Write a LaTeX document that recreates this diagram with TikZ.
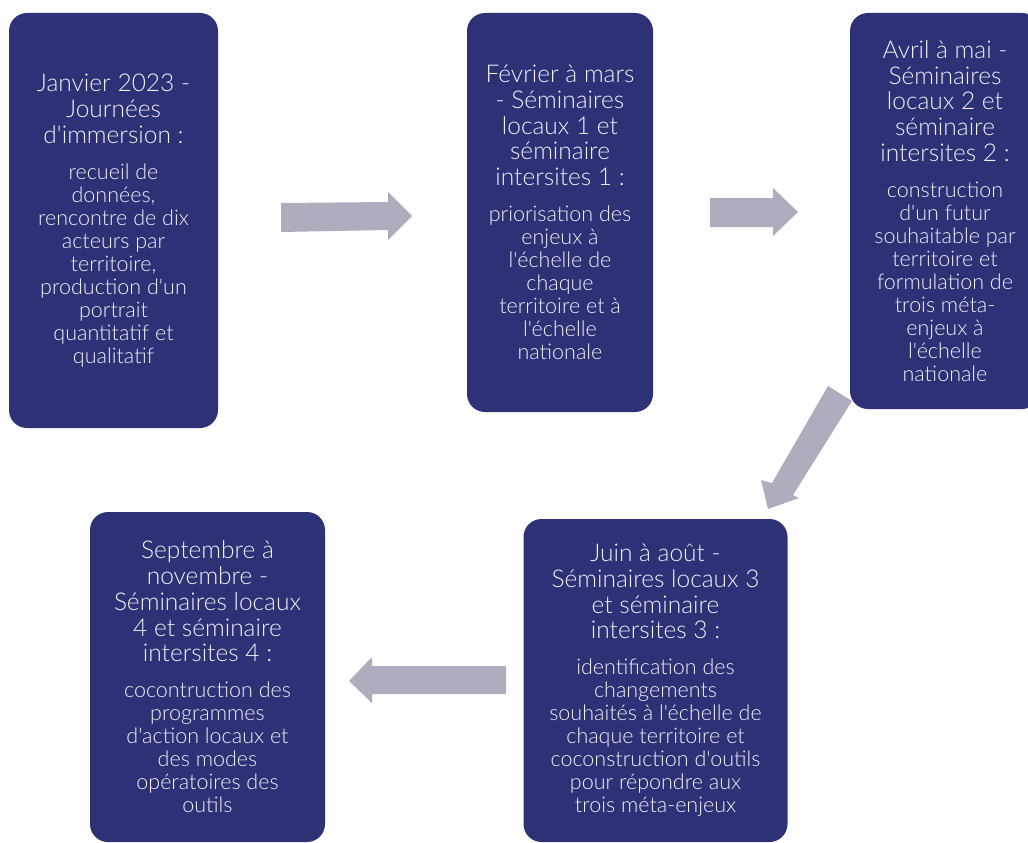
\documentclass[tikz,border=0pt]{standalone}
\usepackage{fontspec}
\setmainfont{Lato Light}[Ligatures=TeXOff]
\definecolor{boxblue}{HTML}{2E3176}
\definecolor{arrowgrey}{HTML}{ADADBE}
\definecolor{txt}{HTML}{F0F0F6}
\newcommand{\ttl}{\fontsize{24.5}{25.8}\selectfont}
\newcommand{\bdy}{\fontsize{21.5}{23}\selectfont}
\newcommand{\stagetext}[3]{\parbox{#1}{\centering\ttl #2\par\vspace{13pt}\bdy #3\par}}
\begin{document}
\begin{tikzpicture}[x=1pt,y=-1pt,
  stagebox/.style={fill=boxblue,rounded corners=18pt,inner sep=0pt,text=txt},
  blockarrow/.style={fill=arrowgrey,draw=none}]
\useasboundingbox (0,0) rectangle (1028,843);
\begin{scope}
\clip (0,0) rectangle (1028,843);
\node[stagebox,minimum width=209pt,minimum height=415pt] (b1) at (113.5,220.5)
 {\stagetext{200pt}{Janvier 2023 -\\ Journées\\ d'immersion :}
  {recueil de\\ données,\\ rencontre de dix\\ acteurs par\\ territoire,\\ production d'un\\ portrait\\ quantitatif et\\ qualitatif}};
\node[stagebox,minimum width=186pt,minimum height=399pt] (b2) at (560,212.5)
 {\stagetext{180pt}{Février à mars\\ - Séminaires\\ locaux 1 et\\ séminaire\\ intersites 1 :}
  {priorisation des\\ enjeux à\\ l'échelle de\\ chaque\\ territoire et à\\ l'échelle\\ nationale}};
\node[stagebox,minimum width=190pt,minimum height=396pt] (b3) at (945,211)
 {\stagetext{180pt}{Avril à mai -\\ Séminaires\\ locaux 2 et\\ séminaire\\ intersites 2 :}
  {construction\\ d'un futur\\ souhaitable par\\ territoire et\\ formulation de\\ trois méta-\\ enjeux à\\ l'échelle\\ nationale}};
\node[stagebox,minimum width=264pt,minimum height=323pt] (b4) at (655.5,680.5)
 {\stagetext{255pt}{Juin à août -\\ Séminaires locaux 3\\ et séminaire\\ intersites 3 :}
  {identification des\\ changements\\ souhaités à l'échelle de\\ chaque territoire et\\ coconstruction d'outils\\ pour répondre aux\\ trois méta-enjeux}};
\node[stagebox,minimum width=235pt,minimum height=330pt] (b5) at (207.5,677)
 {\stagetext{225pt}{Septembre à\\ novembre -\\ Séminaires locaux\\ 4 et séminaire\\ intersites 4 :}
  {cocontruction des\\ programmes\\ d'action locaux et\\ des modes\\ opératoires des\\ outils}};
\end{scope}
% block arrows
\fill[blockarrow] (281,203) -- (388,202) -- (388,192) -- (412,216) -- (388,240) -- (388,230) -- (281,232) -- cycle;
\fill[blockarrow] (710,198) -- (773,198) -- (773,188) -- (798,212) -- (773,236) -- (773,227) -- (710,227) -- cycle;
\fill[blockarrow] (828,386) -- (852,401) -- (793,495) -- (799,498) -- (768,509) -- (761,480) -- (772,483) -- cycle;
\fill[blockarrow] (506,666) -- (372,666) -- (372,657) -- (349,681) -- (372,703) -- (372,694) -- (506,694) -- cycle;
\end{tikzpicture}
\end{document}
